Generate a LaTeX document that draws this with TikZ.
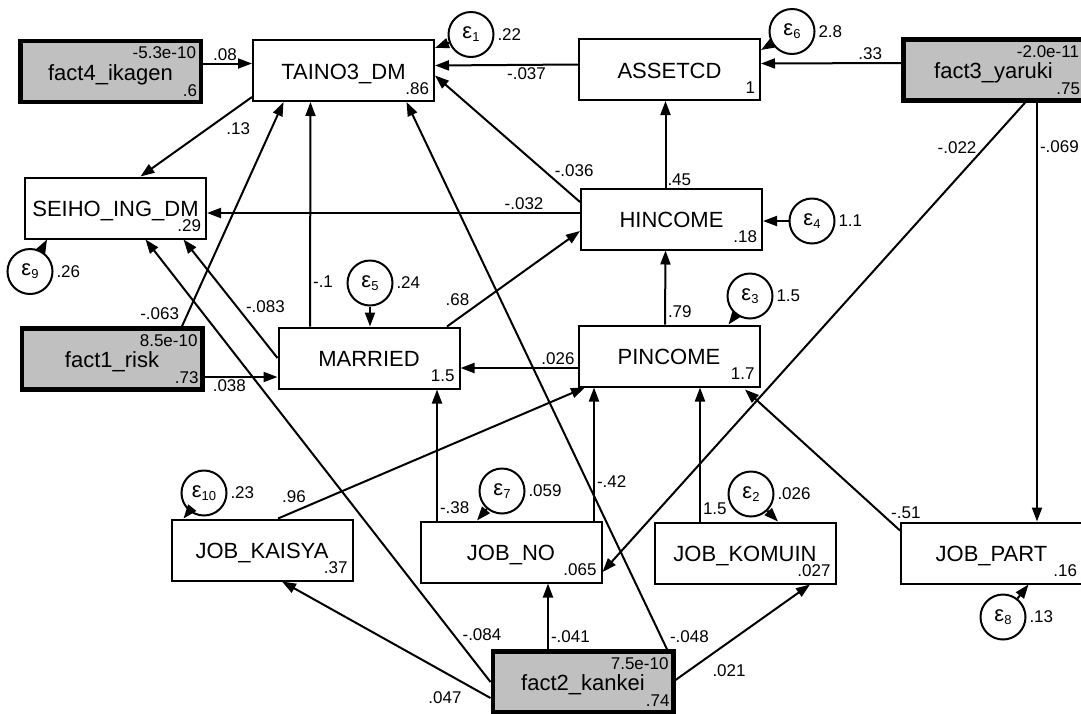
\documentclass[tikz,border=0pt]{standalone}
\usepackage{fontspec}
\setmainfont{Liberation Sans}
\usetikzlibrary{arrows.meta, calc, positioning}
\definecolor{facgray}{RGB}{192,192,192}
\newcommand{\epsl}[1]{ε{\fontsize{13}{13}\selectfont\raisebox{-3pt}{#1}}}
\tikzset{
  obs/.style = {draw=black, line width=2pt, minimum width=181pt,
    minimum height=61pt, inner sep=0pt, text height=17pt, text depth=0pt,
    font=\fontsize{22}{24}\selectfont},
  fac/.style = {obs, fill=facgray, line width=4.5pt,
    minimum width=180.5pt, minimum height=61pt},
  err/.style = {circle, draw=black, line width=2pt, minimum size=45pt,
    inner sep=0pt, font=\fontsize{22}{24}\selectfont},
  est/.style = {font=\fontsize{17}{18}\selectfont, inner sep=0pt},
  cf/.style = {font=\fontsize{17}{18}\selectfont, inner sep=2pt},
  lo/.style = {label={[est, anchor=base east, xshift=-5pt, yshift=8pt]south east:#1}},
  hi/.style = {label={[est, anchor=base east, xshift=-6pt, yshift=-20pt]north east:#1}},
  var/.style = {label={[est, anchor=west, inner sep=2pt]east:#1}}
}

\begin{document}
\begin{tikzpicture}[x=1pt, y=-1pt, ->, >={Triangle[length=14pt,width=10pt]},
  line width=2pt]
\useasboundingbox (0,0) rectangle (1081,713);

% observed and factor boxes
\node [fac, hi=-5.3e-10, lo=.6] (f4) at (110.5,71.5) {fact4\_ikagen};
\node [obs, lo=.86] (taino) at (343.5,70.5) {TAINO3\_DM};
\node [obs, lo=1] (asset) at (669.5,69.5) {ASSETCD};
\node [fac, hi=-2.0e-11, lo=.75] (f3) at (993.5,70) {fact3\_yaruki};
\node [obs, lo=.29] (seiho) at (115.5,208) {SEIHO\_ING\_DM};
\node [obs, lo=.18] (hinc) at (671.5,219) {HINCOME};
\node [obs, lo=1.7] (pinc) at (669,356) {PINCOME};
\node [obs, lo=1.5] (married) at (369,358) {MARRIED};
\node [fac, hi=8.5e-10, lo=.73] (f1) at (112,359) {fact1\_risk};
\node [obs, lo=.37] (kaisya) at (262,550) {JOB\_KAISYA};
\node [obs, lo=.065] (jobno) at (511,552) {JOB\_NO};
\node [obs, lo=.027] (komuin) at (745,553) {JOB\_KOMUIN};
\node [obs, lo=.16] (part) at (991.5,553) {JOB\_PART};
\node [fac, hi=7.5e-10, lo=.74] (f2) at (583,682) {fact2\_kankei};

% error terms
\node [err, var=.22] (e1) at (471,34.5) {\epsl{1}};
\node [err, var=2.8] (e6) at (792,31.5) {\epsl{6}};
\node [err, var=1.1] (e4) at (812,221) {\epsl{4}};
\node [err, var=1.5] (e3) at (750,296) {\epsl{3}};
\node [err, var=.24] (e5) at (370,283) {\epsl{5}};
\node [err, var=.26] (e9) at (30,271.5) {\epsl{9}};
\node [err, var=.23] (e10) at (204,493) {\epsl{10}};
\node [err, var=.059] (e7) at (502,491) {\epsl{7}};
\node [err, var=.026] (e2) at (751,494) {\epsl{2}};
\node [err, var=.13] (e8) at (1003,617) {\epsl{8}};

% paths
\draw ($(f4.east)+(0,-8)$) -- node[cf, pos=.45, above] {.08} ($(taino.west)+(0,-7)$);
\draw ($(taino.south west)+(0,-5)$) -- node[cf, pos=.4, anchor=west, xshift=16pt] {.13} ($(seiho.north)+(25,0)$);
\draw ($(asset.west)+(0,-5)$) -- node[cf, pos=.36, below] {-.037} ($(taino.east)+(0,-5)$);
\draw ($(f3.west)+(0,-7)$) -- node[cf, pos=.22, above] {.33} ($(asset.east)+(0,-6)$);
\draw ($(hinc.north)+(-6,0)$) -- node[cf, pos=0, anchor=south west, inner sep=1pt] {.45} ($(asset.south)+(-4,0)$);
\draw ($(hinc.west)+(0,-17)$) -- node[cf, pos=.25, anchor=west, xshift=8pt] {-.036} ($(taino.east)+(0,5)$);
\draw ($(hinc.west)+(0,-6)$) -- node[cf, pos=.15, above] {-.032} ($(seiho.east)+(0,5)$);
\draw (e4) -- (e4 -| hinc.east);
\draw ($(pinc.north)+(-4,0)$) -- node[cf, pos=0, anchor=south west, yshift=4pt] {.79} ($(hinc.south)+(-6,0)$);
\draw ($(pinc.west)+(0,12)$) -- node[cf, pos=0, anchor=south east] {.026} ($(married.east)+(0,10)$);
\draw ($(married.north)+(78,0)$) -- node[cf, pos=.28, anchor=east, xshift=-12pt] {.68} ($(hinc.west)+(0,12)$);
\draw ($(married.north)+(-59,0)$) -- node[cf, pos=.2, anchor=west] {-.1} ($(taino.south)+(-33,0)$);
\draw (married.west) -- node[cf, pos=.43, anchor=west, xshift=6pt] {-.083} ($(seiho.south)+(68,0)$);
\draw ($(f1.north)+(70,0)$) -- node[cf, pos=0, anchor=south east, yshift=4pt] {-.063} ($(taino.south)+(-60,0)$);
\draw ($(f1.east)+(0,18)$) -- node[cf, pos=.34, below] {.038} ($(married.west)+(0,19)$);
\draw (f2.west) -- node[cf, pos=.107, anchor=west, xshift=6pt] {-.084} ($(seiho.south)+(30,0)$);
\draw ($(f2.west)+(0,16)$) -- node[cf, pos=0, anchor=east, xshift=-26pt] {.047} ($(kaisya.south)+(20,0)$);
\draw ($(f2.north)+(-35,0)$) -- node[cf, pos=0, anchor=south west, yshift=4pt] {-.041} ($(jobno.south)+(37,0)$);
\draw ($(f2.north)+(84,0)$) -- node[cf, pos=0, anchor=south west, yshift=4pt] {-.048} ($(taino.south)+(63,0)$);
\draw ($(f2.east)+(0,-2)$) -- node[cf, pos=0, anchor=west, xshift=34pt, yshift=9pt] {.021} ($(komuin.south)+(65,0)$);
\draw ($(kaisya.north)+(16,0)$) -- node[cf, pos=.1, anchor=south east] {.96} ($(pinc.south)+(-84,0)$);
\draw ($(jobno.north)+(-74,0)$) -- node[cf, pos=0, anchor=south west, yshift=4pt] {-.38} ($(married.south)+(68,0)$);
\draw ($(jobno.north)+(83,0)$) -- node[cf, pos=.29, anchor=west] {-.42} ($(pinc.south)+(-75,0)$);
\draw ($(komuin.north)+(-45,0)$) -- node[cf, pos=0, anchor=south west, yshift=4pt] {1.5} ($(pinc.south)+(31,0)$);
\draw ($(part.north west)+(0,9)$) -- node[cf, pos=.128, anchor=west, xshift=8pt] {-.51} ($(pinc.south)+(76,2)$);
\draw ($(f3.south)+(43.5,0)$) -- node[cf, pos=.105, anchor=west] {-.069} ($(part.north)+(45.5,0)$);
\draw ($(f3.south)+(31.5,0)$) -- node[cf, pos=.096, anchor=east, xshift=-5pt] {-.022} ($(jobno.east)+(0,20)$);

% error paths
\draw (e1) -- ($(taino.north east)+(0,9)$);
\draw (e6) -- ($(asset.north east)+(0,12)$);
\draw (e9) -- ($(seiho.south west)+(23,0)$);
\draw (e5) -- (e5 |- married.north);
\draw (e3) -- ($(pinc.north east)+(-32,0)$);
\draw (e10) -- ($(kaisya.north west)+(13,0)$);
\draw (e7) -- ($(jobno.north)+(-34,0)$);
\draw (e2) -- ($(komuin.north)+(33,0)$);
\draw (e8) -- ($(part.south)+(37,0)$);
\end{tikzpicture}
\end{document}
